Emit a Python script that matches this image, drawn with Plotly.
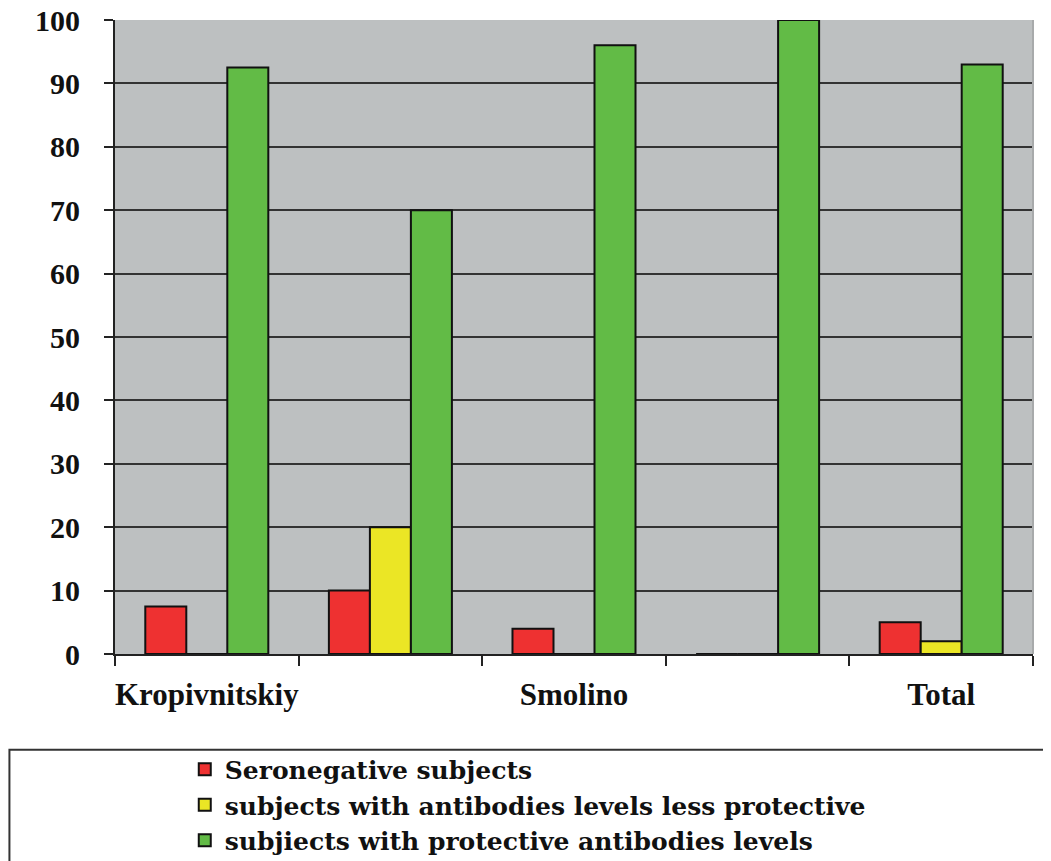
import plotly.graph_objects as go

# Data
positions = [0, 1, 2, 3, 4]
label_positions = [0, 2, 4]
labels = ["Kropivnitskiy", "Smolino", "Total"]
boundaries = [-0.5, 0.5, 1.5, 2.5, 3.5, 4.5]

seronegative = [7.5, 10, 4, 0, 5]
less_protective = [0, 20, 0, 0, 2]
protective = [92.5, 70, 96, 100, 93]

series_names = [
    "Seronegative subjects",
    "subjects with antibodies levels less protective",
    "subjiects with protective antibodies levels",
]
colors = ["#EE3131", "#EBE625", "#62BB46"]

y_ticks = list(range(0, 101, 10))

FONT = "Liberation Serif, Times New Roman, serif"
LEGEND_FONT = "DejaVu Serif, serif"

fig = go.Figure()
for name, vals, col in zip(series_names, [seronegative, less_protective, protective], colors):
    fig.add_trace(go.Bar(
        x=positions, y=vals, name=name,
        marker=dict(color=col, line=dict(color="#111111", width=2)),
    ))

fig.update_layout(
    width=1043, height=853,
    margin=dict(l=107, r=18, t=12, b=207, autoexpand=False),
    paper_bgcolor="white",
    plot_bgcolor="#BDC0C1",
    barmode="group",
    bargap=0.33,
    bargroupgap=0,
    font=dict(family=FONT, size=28, color="#111111", weight="bold"),
    showlegend=True,
    legend=dict(
        x=0.076, y=-0.146, xanchor="left", yanchor="top",
        orientation="v",
        font=dict(family=LEGEND_FONT, size=25, color="#111111", weight="bold"),
        bgcolor="rgba(0,0,0,0)",
        tracegroupgap=0,
        itemsizing="constant",
    ),
    xaxis=dict(
        range=[-0.5, 4.5], automargin=False,
        tickmode="array", tickvals=label_positions, ticktext=labels,
        ticks="", showgrid=False, zeroline=False,
        showline=True, linecolor="#222222", linewidth=2,
        ticklabelstandoff=12,
        tickfont=dict(family=FONT, size=31, color="#111111", weight="bold"),
        minor=dict(tickmode="array", tickvals=boundaries, ticks="outside",
                   ticklen=10, tickwidth=2, tickcolor="#222222", showgrid=False),
    ),
    yaxis=dict(
        range=[0, 100], automargin=False,
        tickmode="array", tickvals=y_ticks,
        ticks="outside", ticklen=9, tickwidth=2, tickcolor="#222222",
        showgrid=True, gridcolor="#333333", gridwidth=2,
        zeroline=False,
        showline=True, linecolor="#222222", linewidth=2,
        ticklabelstandoff=18,
        ticklabeloverflow="allow",
        tickfont=dict(family=FONT, size=30, color="#111111", weight="bold"),
    ),
    shapes=[
        dict(type="rect", xref="paper", yref="paper",
             x0=-0.115, x1=1.05, y0=-0.151, y1=-0.40,
             line=dict(color="#333333", width=2), fillcolor="rgba(0,0,0,0)",
             layer="below"),
        dict(type="line", xref="paper", yref="paper",
             x0=1, x1=1, y0=0, y1=1,
             line=dict(color="#A8AAAB", width=2)),
    ],
)

fig.write_html("out.html")
